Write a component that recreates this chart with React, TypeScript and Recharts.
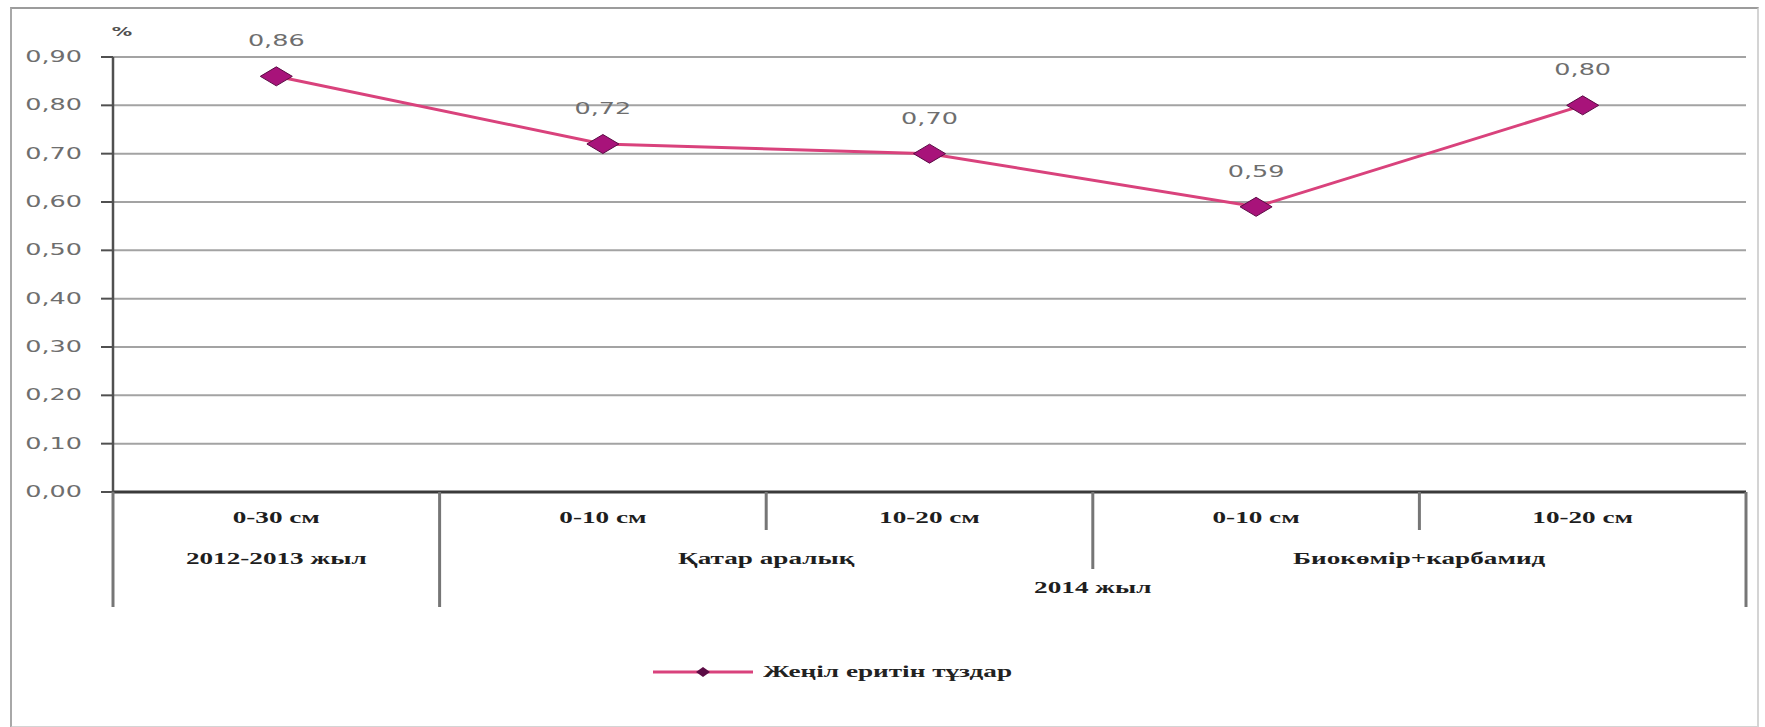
import React from "react";
import { LineChart, Line, XAxis, YAxis, CartesianGrid, LabelList, Legend } from "recharts";

// categories: three levels, as in the original Excel table axis
const depths = ["0-30 см", "0-10 см", "10-20 см", "0-10 см", "10-20 см"];
const methods = ["", "Қатар аралық", "Қатар аралық", "Биокөмір+карбамид", "Биокөмір+карбамид"];
const years = ["2012-2013 жыл", "2014 жыл", "2014 жыл", "2014 жыл", "2014 жыл"];

// series
const seriesName = "Жеңіл еритін тұздар";
const saltValues = [0.86, 0.72, 0.7, 0.59, 0.8];

// axis
const yTicks = [0, 0.1, 0.2, 0.3, 0.4, 0.5, 0.6, 0.7, 0.8, 0.9];
const unitLabel = "%";

const data = depths.map((depth, i) => ({
  key: i,
  depth,
  method: methods[i],
  year: years[i],
  value: saltValues[i],
}));

const WIDTH = 1765;
const HEIGHT = 727;
const MARGIN = { top: 57, right: 19, left: 0, bottom: 105 };
const Y_AXIS_W = 113;
const BAND = (WIDTH - MARGIN.left - MARGIN.right - Y_AXIS_W) / depths.length;

const LINE_COLOR = "#d9427c";
const DOT_FILL = "#a8137a";
const DOT_STROKE = "#5c0b45";
const STRETCH = 1.7;

const fmt = (v: number) => v.toFixed(2).replace(".", ",");

const stretch = (origin: string) => ({
  transformBox: "fill-box" as any,
  transformOrigin: origin,
  transform: `scaleX(${STRETCH})`,
});

const serifBold = {
  fontFamily: "'Liberation Serif', 'Times New Roman', serif",
  fontWeight: 700,
  fontSize: 16,
  fill: "#1e1e1e",
};

const sansGrey = {
  fontFamily: "'DejaVu Sans', Verdana, sans-serif",
  fontSize: 15,
  fill: "#6e6e6e",
};

// how far down a divider goes depending on which levels change there
const ROW1 = 26;
const ROW2 = 67;
const ROW3 = 96;
const SHORT = 38;
const MID = 77;
const LONG = 115;

function dividerLen(k: number) {
  if (k === 0 || k === depths.length) return LONG;
  if (years[k] !== years[k - 1]) return LONG;
  if (methods[k] !== methods[k - 1]) return MID;
  return SHORT;
}

function runLength(arr: string[], i: number) {
  let n = 1;
  while (i + n < arr.length && arr[i + n] === arr[i]) n++;
  return n;
}

function XTick(props: any) {
  const { x, y, payload } = props;
  const i = Number(payload.value);
  const half = payload.offset ? payload.offset : BAND / 2;
  const band = half * 2;
  const left = x - half;
  const parts: React.ReactNode[] = [];

  parts.push(
    <line key="d" x1={left} x2={left} y1={y} y2={y + dividerLen(i)} stroke="#767676" strokeWidth={3} />
  );
  if (i === depths.length - 1) {
    parts.push(
      <line key="e" x1={left + band} x2={left + band} y1={y} y2={y + dividerLen(i + 1)} stroke="#767676" strokeWidth={3} />
    );
  }

  parts.push(
    <text key="r1" x={x} y={y + ROW1} textAnchor="middle" dominantBaseline="central" style={{ ...serifBold, ...stretch("center") }}>
      {depths[i]}
    </text>
  );

  if (methods[i] && (i === 0 || methods[i] !== methods[i - 1])) {
    const n = runLength(methods, i);
    parts.push(
      <text key="r2" x={left + (n * band) / 2} y={y + ROW2} textAnchor="middle" dominantBaseline="central" style={{ ...serifBold, ...stretch("center") }}>
        {methods[i]}
      </text>
    );
  }

  if (i === 0 || years[i] !== years[i - 1]) {
    const n = runLength(years, i);
    const row = methods[i] ? ROW3 : ROW2;
    parts.push(
      <text key="r3" x={left + (n * band) / 2} y={y + row} textAnchor="middle" dominantBaseline="central" style={{ ...serifBold, ...stretch("center") }}>
        {years[i]}
      </text>
    );
  }

  return <g>{parts}</g>;
}

function YTick(props: any) {
  const { x, y, payload } = props;
  return (
    <text x={x} y={y} textAnchor="end" dominantBaseline="central" style={{ ...sansGrey, ...stretch("right center") }}>
      {fmt(payload.value)}
    </text>
  );
}

function UnitLabel(props: any) {
  const vb = props.viewBox || { x: 0, y: MARGIN.top, width: Y_AXIS_W };
  return (
    <text
      x={vb.x + vb.width + 9}
      y={vb.y - 25}
      textAnchor="middle"
      dominantBaseline="central"
      style={{ ...sansGrey, fontSize: 12, fontWeight: 700, fill: "#505050", ...stretch("center") }}
    >
      {unitLabel}
    </text>
  );
}

function Diamond(props: any) {
  const { cx, cy } = props;
  if (cx == null || cy == null) return null;
  const w = 16;
  const h = 9.5;
  return (
    <polygon
      points={`${cx - w},${cy} ${cx},${cy - h} ${cx + w},${cy} ${cx},${cy + h}`}
      fill={DOT_FILL}
      stroke={DOT_STROKE}
      strokeWidth={1}
    />
  );
}

function ValueLabel(props: any) {
  const { x, y, value } = props;
  return (
    <text x={x} y={y - 35} textAnchor="middle" dominantBaseline="central" style={{ ...sansGrey, ...stretch("center") }}>
      {fmt(Number(value))}
    </text>
  );
}

function LegendBox(props: any) {
  const item = (props.payload && props.payload[0]) || { value: seriesName, color: LINE_COLOR };
  return (
    <div style={{ display: "flex", alignItems: "center", height: 20 }}>
      <svg width={100} height={20}>
        <line x1={0} x2={100} y1={10} y2={10} stroke={item.color || LINE_COLOR} strokeWidth={3} />
        <polygon points="43,10 50,5 57,10 50,15" fill="#5c0b45" />
      </svg>
      <span
        style={{
          marginLeft: 10,
          display: "inline-block",
          whiteSpace: "nowrap",
          fontFamily: "'Liberation Serif', 'Times New Roman', serif",
          fontWeight: 700,
          fontSize: 16,
          color: "#222",
          transform: `scaleX(${STRETCH})`,
          transformOrigin: "left center",
        }}
      >
        {item.value}
      </span>
    </div>
  );
}

export default function App() {
  return (
    <div style={{ position: "absolute", left: 0, top: 0, width: WIDTH, height: HEIGHT, background: "#fff" }}>
      <div
        style={{
          position: "absolute",
          left: 10,
          top: 7,
          width: 1745,
          height: 717,
          borderTop: "2px solid #9c9c9c",
          borderLeft: "2px solid #a8a8a8",
          borderRight: "2px solid #d4d4d4",
          borderBottom: "2px solid #d4d4d4",
        }}
      />
      <div style={{ position: "absolute", left: 0, top: 0 }}>
        <LineChart width={WIDTH} height={HEIGHT} data={data} margin={MARGIN}>
          <CartesianGrid vertical={false} stroke="#a3a3a3" strokeWidth={2} />
          <XAxis
            dataKey="key"
            type="category"
            scale="band"
            interval={0}
            height={130}
            tickSize={0}
            tickMargin={0}
            tickLine={false}
            axisLine={{ stroke: "#3a3a3a", strokeWidth: 3 }}
            tick={<XTick />}
          />
          <YAxis
            type="number"
            domain={[0, 0.9]}
            ticks={yTicks}
            interval={0}
            width={Y_AXIS_W}
            tickSize={12}
            tickMargin={19}
            axisLine={{ stroke: "#505050", strokeWidth: 2.5 }}
            tickLine={{ stroke: "#505050", strokeWidth: 2 }}
            tick={<YTick />}
            label={(p: any) => <UnitLabel {...p} />}
          />
          <Legend
            layout="horizontal"
            verticalAlign="middle"
            align="center"
            wrapperStyle={{ top: 662, left: 653, width: 420, height: 20 }}
            content={(p: any) => <LegendBox {...p} />}
          />
          <Line
            type="linear"
            dataKey="value"
            name={seriesName}
            stroke={LINE_COLOR}
            strokeWidth={3}
            dot={(p: any) => <Diamond key={p.index} {...p} />}
            activeDot={false}
            isAnimationActive={false}
          >
            <LabelList dataKey="value" content={(p: any) => <ValueLabel {...p} />} />
          </Line>
        </LineChart>
      </div>
    </div>
  );
}
